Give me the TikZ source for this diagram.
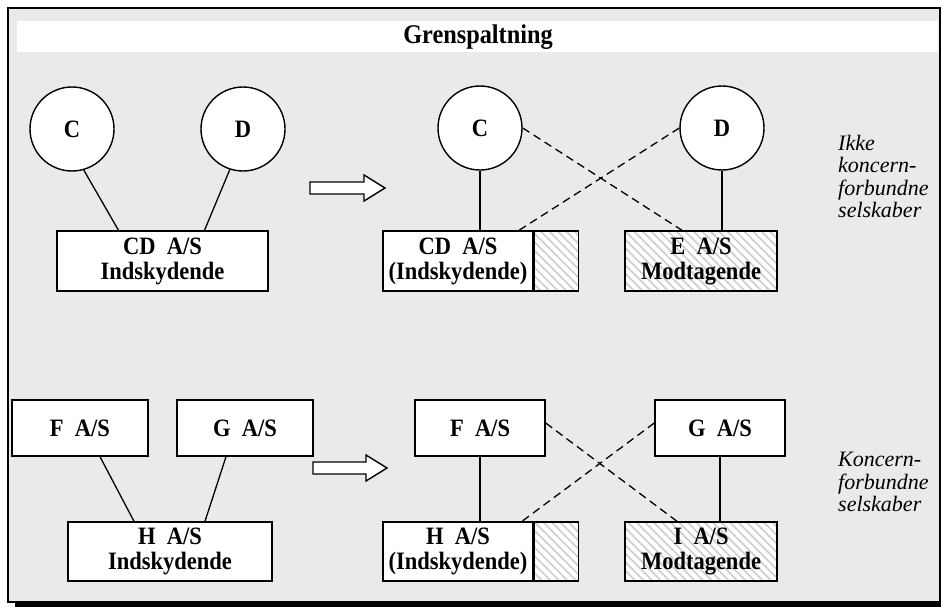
\documentclass[tikz,border=0pt]{standalone}
\usepackage{fontspec}
\setmainfont{Liberation Serif}
\newfontfamily\boxfont{Liberation Serif}[FakeStretch=0.9]
\usetikzlibrary{patterns.meta}
\definecolor{panelbg}{RGB}{234,234,234}
\definecolor{hatchgray}{RGB}{205,205,205}
\begin{document}
\begin{tikzpicture}[x=1pt,y=-1pt,
  lbl/.style={font=\boxfont\fontsize{25}{25}\selectfont\bfseries, align=center},
  circ/.style={circle, draw, line width=1.4pt, fill=white, minimum size=84pt, inner sep=0pt, lbl},
  cobox/.style={draw, line width=1.4pt, fill=white, inner sep=0pt, lbl},
  hatchbox/.style={draw, line width=1.4pt, inner sep=0pt, lbl,
    preaction={fill=white},
    preaction={pattern={Lines[angle=-45,distance=6pt,line width=1.6pt]}, pattern color=hatchgray}},
  link/.style={line width=1.3pt},
  dlink/.style={line width=1.3pt, dash pattern=on 8pt off 5pt},
  note/.style={font=\fontsize{22}{22.5}\selectfont\itshape, align=left, anchor=north west, inner sep=0pt},
  bigarrow/.style={draw, line width=1.4pt, fill=white}]
\useasboundingbox (0,0) rectangle (941,607);

% panel with drop shadow
\fill[black] (15,600) rectangle (941,607);
\draw[line width=1.6pt, fill=panelbg] (8,8) rectangle (940,602);
\fill[white] (17,21) rectangle (938,52);
\node[lbl, font=\boxfont\fontsize{27}{27}\selectfont\bfseries] (title) at (478,37) {Grenspaltning};

% ---- upper row: non-affiliated companies ----
\node[circ] (cC1) at (72,129) {C};
\node[circ] (cD1) at (243,129) {D};
\node[cobox, minimum width=211pt, minimum height=60pt] (bCD1) at (162.5,261) {CD\ \ A/S\\Indskydende};
\draw[link] (cC1.-74) -- ([xshift=-44pt]bCD1.north);
\draw[link] (cD1.-108) -- ([xshift=42pt]bCD1.north);

\draw[bigarrow] (310,182) -- (364,182) -- (364,175) -- (385,188) -- (364,201) -- (364,194) -- (310,194) -- cycle;

\node[circ] (cC2) at (480,128) {C};
\node[circ] (cD2) at (722,128) {D};
\node[cobox, minimum width=150pt, minimum height=60pt] (bCD2) at (458,261) {CD\ \ A/S\\(Indskydende)};
\node[hatchbox, minimum width=44pt, minimum height=60pt, anchor=west] (hCD2) at (bCD2.east) {};
\node[hatchbox, minimum width=152pt, minimum height=60pt] (bE) at (701,261) {E\ \ A/S\\Modtagende};

\draw[link] (cC2.south) -- (cC2.south |- bCD2.north);
\draw[link] (cD2.south) -- (cD2.south |- bE.north);
\draw[dlink] (cC2.east) -- ([xshift=-19pt]bE.north);
\draw[dlink] (cD2.west) -- ([xshift=61pt]bCD2.north);

\node[note] (noteA) at (838,135) {Ikke\\koncern-\\forbundne\\selskaber};

% ---- lower row: affiliated companies ----
\node[cobox, minimum width=136pt, minimum height=56pt] (bF1) at (80,428) {F\ \ A/S};
\node[cobox, minimum width=136pt, minimum height=56pt] (bG1) at (245,428) {G\ \ A/S};
\node[cobox, minimum width=204pt, minimum height=59pt] (bH1) at (170,551.5) {H\ \ A/S\\Indskydende};
\draw[link] ([xshift=20pt]bF1.south) -- ([xshift=-36pt]bH1.north);
\draw[link] ([xshift=-19pt]bG1.south) -- ([xshift=35pt]bH1.north);

\draw[bigarrow] (313,462) -- (366,462) -- (366,455) -- (387,468) -- (366,481) -- (366,474) -- (313,474) -- cycle;

\node[cobox, minimum width=130pt, minimum height=56pt] (bF2) at (480,428) {F\ \ A/S};
\node[cobox, minimum width=130pt, minimum height=56pt] (bG2) at (720,428) {G\ \ A/S};
\node[cobox, minimum width=150pt, minimum height=59pt] (bH2) at (458,551.5) {H\ \ A/S\\(Indskydende)};
\node[hatchbox, minimum width=44pt, minimum height=59pt, anchor=west] (hH2) at (bH2.east) {};
\node[hatchbox, minimum width=152pt, minimum height=59pt] (bI) at (701,551.5) {I\ \ A/S\\Modtagende};

\draw[link] (bF2.south) -- (bF2.south |- bH2.north);
\draw[link] (bG2.south) -- (bG2.south |- bI.north);
\draw[dlink] ([yshift=5pt]bF2.east) -- ([xshift=-24pt]bI.north);
\draw[dlink] ([yshift=5pt]bG2.west) -- ([xshift=64pt]bH2.north);

\node[note] (noteB) at (838,452) {Koncern-\\forbundne\\selskaber};
\end{tikzpicture}
\end{document}
